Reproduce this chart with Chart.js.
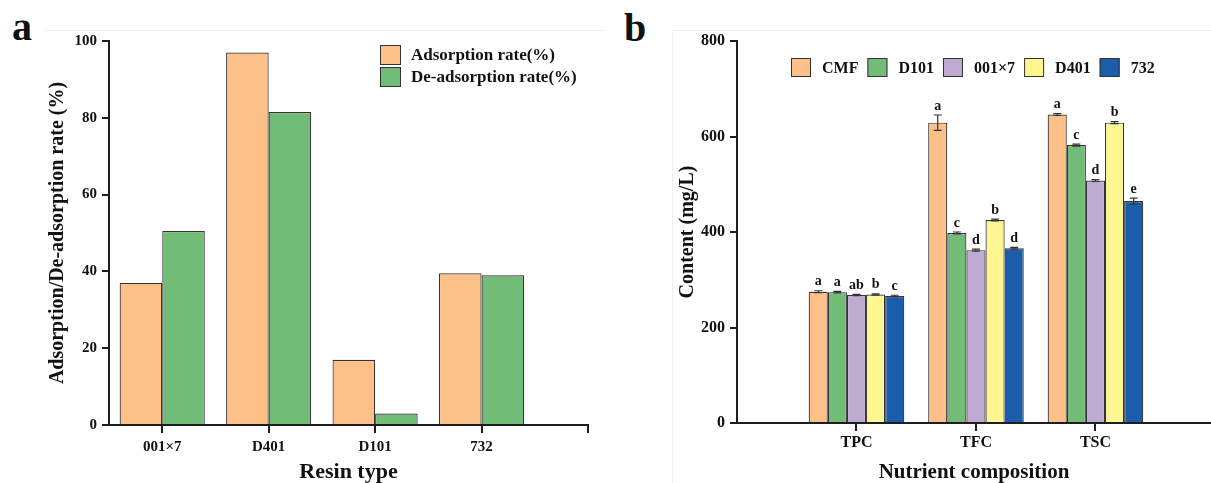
<!DOCTYPE html>
<html><head><meta charset="utf-8">
<script src="https://cdn.jsdelivr.net/npm/chart.js@4/dist/chart.umd.min.js"></script>
<style>
html,body{margin:0;padding:0;background:#fff;width:1211px;height:483px;overflow:hidden;position:relative;}
canvas{position:absolute;top:0;}
#ca{left:0;}
#cb{left:605px;}
.lab{position:absolute;font-family:"Liberation Serif",serif;font-weight:bold;font-size:40px;color:#111;line-height:40px;}
.fr{position:absolute;background:#f1f1f1;}
</style></head><body>
<div class="fr" style="left:45px;top:30px;width:560px;height:1px;"></div>
<div class="fr" style="left:672px;top:30px;width:539px;height:1px;"></div>
<div class="fr" style="left:672px;top:30px;width:1px;height:453px;"></div>
<div class="lab" style="left:12px;top:7px;">a</div>
<div class="lab" style="left:624px;top:8px;">b</div>
<canvas id="ca" width="605" height="483"></canvas>
<canvas id="cb" width="606" height="483"></canvas>
<script>
// ---------- Panel a data ----------
const resinTypes = ['001×7', 'D401', 'D101', '732'];
const adsorptionRate = [37, 97, 17, 39.5];
const deAdsorptionRate = [50.5, 81.5, 3, 39];
const yTicksA = [0, 20, 40, 60, 80, 100];

// ---------- Panel b data ----------
const nutrients = ['TPC', 'TFC', 'TSC'];
const groupNames = ['CMF', 'D101', '001×7', 'D401', '732'];
const valCMF = [275, 629, 646];
const valD101 = [274, 398, 582];
const val001x7 = [268, 362, 508];
const valD401 = [269, 425, 629];
const val732 = [266, 366, 465];
const errCMF = [2, 16, 2];
const errD101 = [1.5, 2, 2];
const err001x7 = [1.5, 2, 2];
const errD401 = [1.5, 2, 2];
const err732 = [1.5, 2, 6];
const sigCMF = ['a', 'a', 'a'];
const sigD101 = ['a', 'c', 'c'];
const sig001x7 = ['ab', 'd', 'd'];
const sigD401 = ['b', 'b', 'b'];
const sig732 = ['c', 'd', 'e'];
const yTicksB = [0, 200, 400, 600, 800];

const FAM = '"Liberation Serif", "Times New Roman", serif';
const INK = '#111';
const AXIS = '#1e1e1e';
const EDGE = '#333333';

const legendPlugin = {
  id: 'manualLegend',
  afterDraw(chart, args, o) {
    if (!o || !o.show) return;
    const ctx = chart.ctx; ctx.save();
    ctx.font = 'bold ' + o.fontSize + 'px ' + FAM;
    ctx.textBaseline = 'middle'; ctx.textAlign = 'left';
    let x = o.x, y = o.y;
    chart.data.datasets.forEach(ds => {
      ctx.fillStyle = ds.backgroundColor; ctx.fillRect(x, y, o.boxW, o.boxH);
      ctx.strokeStyle = EDGE; ctx.lineWidth = 1;
      ctx.strokeRect(x + 0.5, y + 0.5, o.boxW - 1, o.boxH - 1);
      ctx.fillStyle = INK;
      ctx.fillText(ds.label, x + o.boxW + o.gap, y + o.boxH / 2 + 1);
      if (o.vertical) y += o.boxH + o.rowGap;
      else x += o.boxW + o.gap + ctx.measureText(ds.label).width + o.itemGap;
    });
    ctx.restore();
  }
};

const sigPlugin = {
  id: 'sigBars',
  afterDatasetsDraw(chart) {
    const ctx = chart.ctx; const yS = chart.scales.y;
    ctx.save();
    chart.data.datasets.forEach((ds, di) => {
      if (!ds.errors && !ds.letters) return;
      const meta = chart.getDatasetMeta(di);
      meta.data.forEach((bar, i) => {
        const v = ds.data[i].y; const e = ds.errors ? ds.errors[i] : 0;
        const yt = yS.getPixelForValue(v + e), yb = yS.getPixelForValue(v - e);
        ctx.strokeStyle = '#333'; ctx.lineWidth = 1.2;
        ctx.beginPath();
        ctx.moveTo(bar.x, yt); ctx.lineTo(bar.x, yb);
        ctx.moveTo(bar.x - 4, yt); ctx.lineTo(bar.x + 4, yt);
        ctx.moveTo(bar.x - 4, yb); ctx.lineTo(bar.x + 4, yb);
        ctx.stroke();
        if (ds.letters) {
          ctx.fillStyle = INK; ctx.font = 'bold 14px ' + FAM;
          ctx.textAlign = 'center'; ctx.textBaseline = 'bottom';
          ctx.fillText(ds.letters[i], bar.x, Math.min(yt, bar.y) - 2);
        }
      });
    });
    ctx.restore();
  }
};

function pts(arr) { return arr.map((v, i) => ({ x: i, y: v })); }

function axisCommon(fontSize, tickLen, pad) {
  return {
    ticks: { font: { family: FAM, weight: 'bold', size: fontSize }, color: INK, padding: pad, maxRotation: 0, autoSkip: false },
    grid: { display: true, drawOnChartArea: false, drawTicks: true, tickLength: tickLen, color: AXIS, lineWidth: 2, offset: false },
    border: { display: true, color: AXIS, width: 2 }
  };
}

// ---------- Chart a ----------
const xa = axisCommon(15, 8, 5);
const ya = axisCommon(15, 7, 5);
xa.ticks.callback = (v) => (resinTypes[v] !== undefined ? resinTypes[v] : '');
new Chart(document.getElementById('ca'), {
  type: 'bar',
  data: {
    datasets: [
      { label: 'Adsorption rate(%)', data: pts(adsorptionRate), backgroundColor: '#FDC088', borderColor: EDGE, borderWidth: 1.2, categoryPercentage: 0.8, barPercentage: 1 },
      { label: 'De-adsorption rate(%)', data: pts(deAdsorptionRate), backgroundColor: '#73BC78', borderColor: EDGE, borderWidth: 1.2, categoryPercentage: 0.8, barPercentage: 1 }
    ]
  },
  options: {
    responsive: false, animation: false, devicePixelRatio: 1,
    layout: { padding: { top: 41, right: 17, bottom: 0, left: 0 } },
    plugins: {
      legend: { display: false }, tooltip: { enabled: false },
      manualLegend: { show: true, vertical: true, x: 380, y: 45, boxW: 21, boxH: 20, gap: 10, rowGap: 2, fontSize: 17 }
    },
    scales: {
      x: Object.assign(xa, {
        type: 'linear', offset: false, min: -0.5, max: 4,
        afterBuildTicks: s => { s.ticks = [0, 1, 2, 3, 4].map(v => ({ value: v })); },
        afterFit: s => { s.height = 58; },
        title: { display: true, text: 'Resin type', color: INK, font: { family: FAM, weight: 'bold', size: 22 }, padding: { top: 0, bottom: -3 } }
      }),
      y: Object.assign(ya, {
        min: 0, max: 100,
        afterBuildTicks: s => { s.ticks = yTicksA.map(v => ({ value: v })); },
        afterFit: s => { s.width = 109; },
        title: { display: true, text: 'Adsorption/De-adsorption rate (%)', color: INK, font: { family: FAM, weight: 'bold', size: 20 }, padding: { top: 46, bottom: 0 } }
      })
    }
  },
  plugins: [legendPlugin]
});

// ---------- Chart b ----------
const colorsB = ['#FDC088', '#73BC78', '#BFAAD2', '#FEF691', '#1B5CAB'];
const valsB = [valCMF, valD101, val001x7, valD401, val732];
const errsB = [errCMF, errD101, err001x7, errD401, err732];
const sigsB = [sigCMF, sigD101, sig001x7, sigD401, sig732];
const xb = axisCommon(16, 8, 2);
const yb = axisCommon(16, 7, 5);
xb.ticks.callback = (v) => (nutrients[v] !== undefined ? nutrients[v] : '');
new Chart(document.getElementById('cb'), {
  type: 'bar',
  data: {
    datasets: groupNames.map((g, k) => ({
      label: g, data: pts(valsB[k]), errors: errsB[k], letters: sigsB[k],
      backgroundColor: colorsB[k], borderColor: EDGE, borderWidth: 1.2, categoryPercentage: 0.8, barPercentage: 1
    }))
  },
  options: {
    responsive: false, animation: false, devicePixelRatio: 1,
    layout: { padding: { top: 41, right: 0, bottom: 0, left: 0 } },
    plugins: {
      legend: { display: false }, tooltip: { enabled: false },
      manualLegend: { show: true, vertical: false, x: 186, y: 58, boxW: 20, boxH: 19, gap: 11, itemGap: 9, fontSize: 16 }
    },
    scales: {
      x: Object.assign(xb, {
        type: 'linear', offset: false, min: -1, max: 2.967,
        afterBuildTicks: s => { s.ticks = [0, 1, 2].map(v => ({ value: v })); },
        afterFit: s => { s.height = 60; },
        title: { display: true, text: 'Nutrient composition', color: INK, font: { family: FAM, weight: 'bold', size: 21 }, padding: { top: 0, bottom: -2 } }
      }),
      y: Object.assign(yb, {
        min: 0, max: 800,
        afterBuildTicks: s => { s.ticks = yTicksB.map(v => ({ value: v })); },
        afterFit: s => { s.width = 132; },
        title: { display: true, text: 'Content (mg/L)', color: INK, font: { family: FAM, weight: 'bold', size: 20 }, padding: { top: 71, bottom: 0 } }
      })
    }
  },
  plugins: [legendPlugin, sigPlugin]
});
</script>
</body></html>
